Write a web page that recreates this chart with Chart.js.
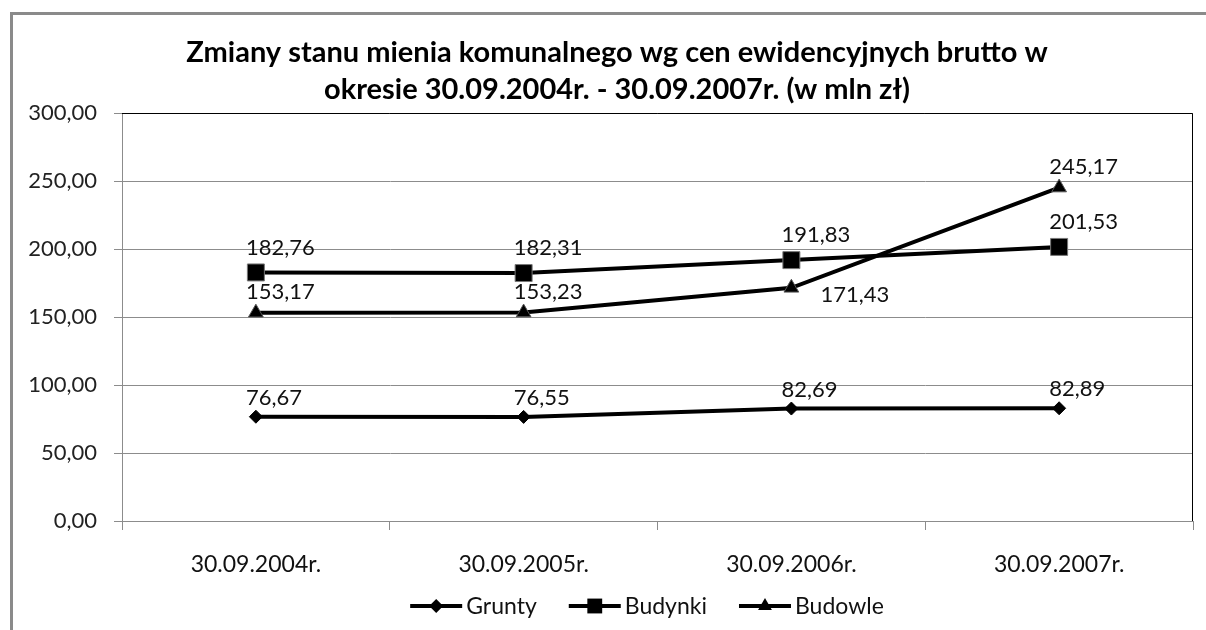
<!DOCTYPE html>
<html lang="pl">
<head>
<meta charset="utf-8">
<title>Zmiany stanu mienia komunalnego</title>
<script src="https://cdn.jsdelivr.net/npm/chart.js@4/dist/chart.umd.min.js"></script>
<style>
  html, body { margin: 0; padding: 0; background: #fff; }
  canvas { display: block; }
</style>
</head>
<body>
<canvas id="chart" width="1206" height="630"></canvas>
<script>
// Data (mln zł)
const categories = ['30.09.2004r.', '30.09.2005r.', '30.09.2006r.', '30.09.2007r.'];
const grunty  = [76.67, 76.55, 82.69, 82.89];
const budynki = [182.76, 182.31, 191.83, 201.53];
const budowle = [153.17, 153.23, 171.43, 245.17];
const titleLines = [
  'Zmiany stanu mienia komunalnego wg cen ewidencyjnych brutto w',
  'okresie 30.09.2004r. - 30.09.2007r. (w mln zł)'
];

const FONT = "Lato, 'Open Sans', sans-serif";
const GRID = '#8c8c8c';

// Polish number format: 182,76
const fmt = v => v.toFixed(2).replace('.', ',');

// small marker painter, used by the legend
function drawMarker(ctx, style, x, y, r) {
  ctx.beginPath();
  if (style === 'rectRot') {
    ctx.moveTo(x - r, y); ctx.lineTo(x, y - r); ctx.lineTo(x + r, y); ctx.lineTo(x, y + r);
  } else if (style === 'rect') {
    const s = Math.SQRT1_2 * r;
    ctx.rect(x - s, y - s, 2 * s, 2 * s);
  } else {
    ctx.moveTo(x, y - r);
    ctx.lineTo(x + Math.sin(2 * Math.PI / 3) * r, y - Math.cos(2 * Math.PI / 3) * r);
    ctx.lineTo(x + Math.sin(4 * Math.PI / 3) * r, y - Math.cos(4 * Math.PI / 3) * r);
  }
  ctx.closePath();
  ctx.fill();
}

// white background, grey chart frame (runs off the right/bottom edge, like the scan) and the title
const framePlugin = {
  id: 'frame',
  beforeDraw(chart) {
    const ctx = chart.ctx;
    ctx.save();
    ctx.fillStyle = '#fff';
    ctx.fillRect(0, 0, chart.width, chart.height);
    ctx.strokeStyle = '#8a8a8a';
    ctx.lineWidth = 3;
    ctx.strokeRect(11.5, 13.5, chart.width + 40, chart.height + 40);

    // title is centred on the full (cropped) chart object, not on the canvas
    ctx.fillStyle = '#000';
    ctx.font = 'bold 29px ' + FONT;
    ctx.textAlign = 'center';
    ctx.textBaseline = 'middle';
    titleLines.forEach((line, i) => ctx.fillText(line, 617, 53 + i * 37));
    ctx.restore();
  }
};

// black top and right edge of the plot area
const plotBorderPlugin = {
  id: 'plotBorder',
  beforeDatasetsDraw(chart) {
    const { ctx, chartArea: a } = chart;
    ctx.save();
    ctx.strokeStyle = '#000';
    ctx.lineWidth = 1;
    ctx.beginPath();
    ctx.moveTo(a.left, a.top + 0.5);
    ctx.lineTo(a.right - 0.5, a.top + 0.5);
    ctx.lineTo(a.right - 0.5, a.bottom);
    ctx.stroke();
    ctx.restore();
  }
};

// value labels next to every point
const valueLabelPlugin = {
  id: 'valueLabels',
  afterDatasetsDraw(chart) {
    const ctx = chart.ctx;
    ctx.save();
    ctx.font = '22px ' + FONT;
    ctx.fillStyle = '#111';
    ctx.textBaseline = 'middle';
    ctx.textAlign = 'left';
    chart.data.datasets.forEach((ds, i) => {
      const meta = chart.getDatasetMeta(i);
      meta.data.forEach((pt, j) => {
        const place = (ds.labelPlace && ds.labelPlace[j]) || 'above';
        const txt = fmt(ds.data[j]);
        if (place === 'belowRight') {
          ctx.fillText(txt, pt.x + 29, pt.y + 7);
        } else {
          ctx.fillText(txt, pt.x - 10, pt.y - ds.labelLift);
        }
      });
    });
    ctx.restore();
  }
};

// legend: line sample with marker, then the name; centred like the original
const legendPlugin = {
  id: 'lineLegend',
  afterDraw(chart) {
    const ctx = chart.ctx;
    const y = 606, sample = 52, gapText = 4, gapItem = 32, cx = 647;
    ctx.save();
    ctx.font = '23px ' + FONT;
    ctx.textBaseline = 'middle';
    const items = chart.data.datasets.map(ds => ({ ds, w: ctx.measureText(ds.label).width }));
    const total = items.reduce((s, it) => s + sample + gapText + it.w, 0) + gapItem * (items.length - 1);
    let x = cx - total / 2;
    items.forEach(({ ds, w }) => {
      ctx.strokeStyle = ds.borderColor;
      ctx.lineWidth = ds.borderWidth;
      ctx.beginPath();
      ctx.moveTo(x, y);
      ctx.lineTo(x + sample, y);
      ctx.stroke();
      ctx.fillStyle = ds.pointBackgroundColor;
      drawMarker(ctx, ds.pointStyle, x + sample / 2, y, ds.legendRadius);
      ctx.fillStyle = '#111';
      ctx.fillText(ds.label, x + sample + gapText, y + 1);
      x += sample + gapText + w + gapItem;
    });
    ctx.restore();
  }
};

new Chart(document.getElementById('chart'), {
  type: 'line',
  data: {
    labels: categories,
    datasets: [
      {
        label: 'Grunty',
        data: grunty,
        borderColor: '#000',
        borderWidth: 4,
        pointStyle: 'rectRot',
        pointRadius: 6.5,
        pointBackgroundColor: '#000',
        pointBorderColor: '#000',
        pointBorderWidth: 1,
        legendRadius: 7,
        labelLift: 19,
        tension: 0
      },
      {
        label: 'Budynki',
        data: budynki,
        borderColor: '#000',
        borderWidth: 4,
        pointStyle: 'rect',
        pointRadius: 12,
        pointBackgroundColor: '#000',
        pointBorderColor: '#777',
        pointBorderWidth: 1,
        legendRadius: 10.5,
        labelLift: 25,
        tension: 0
      },
      {
        label: 'Budowle',
        data: budowle,
        borderColor: '#000',
        borderWidth: 4,
        pointStyle: 'triangle',
        pointRadius: 8.5,
        pointBackgroundColor: '#000',
        pointBorderColor: '#555',
        pointBorderWidth: 1,
        legendRadius: 8,
        labelLift: 21,
        labelPlace: ['above', 'above', 'belowRight', 'above'],
        tension: 0
      }
    ]
  },
  options: {
    responsive: false,
    animation: false,
    layout: { padding: { left: 12, right: 8, top: 113, bottom: 0 } },
    plugins: {
      legend: { display: false },
      tooltip: { enabled: false },
      title: { display: false }
    },
    scales: {
      x: {
        offset: true,
        afterFit(scale) { scale.height = 109; },
        grid: {
          offset: true,
          drawOnChartArea: false,
          drawTicks: true,
          tickLength: 9,
          color: GRID
        },
        border: { color: GRID },
        ticks: {
          color: '#111',
          padding: 21,
          font: { family: FONT, size: 23 }
        }
      },
      y: {
        min: 0,
        max: 300,
        afterFit(scale) { scale.width = 110; },
        grid: { color: GRID, tickLength: 8 },
        border: { color: GRID },
        ticks: {
          stepSize: 50,
          color: '#222',
          padding: 17,
          font: { family: FONT, size: 22 },
          callback: v => fmt(v)
        }
      }
    }
  },
  plugins: [framePlugin, plotBorderPlugin, valueLabelPlugin, legendPlugin]
});
</script>
</body>
</html>
